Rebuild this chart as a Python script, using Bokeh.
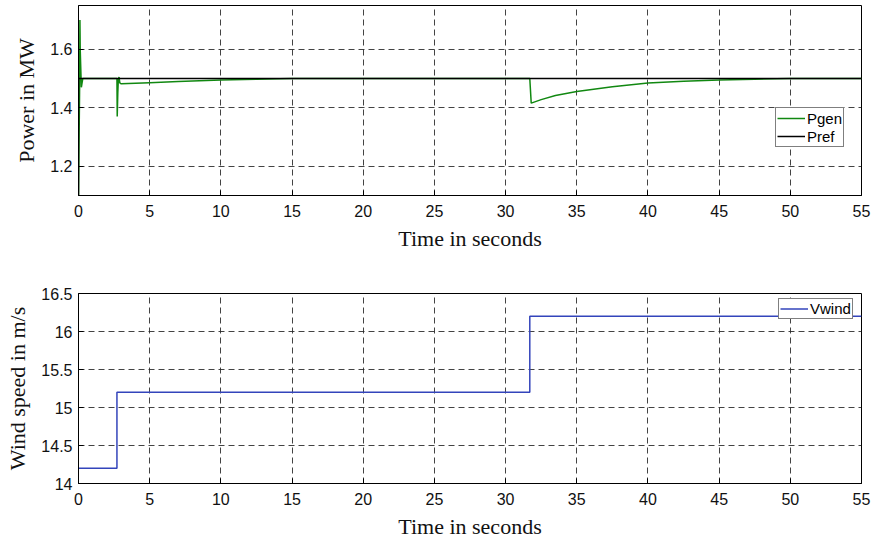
from bokeh.plotting import figure
from bokeh.layouts import column
from bokeh.models import Range1d, FixedTicker, Legend, LegendItem
from bokeh.embed import file_html
from bokeh.resources import INLINE

# ---- data ----
t_pgen = [0.0, 0.08, 0.1, 0.12, 0.2, 0.3, 2.7, 2.72, 2.76, 2.8, 2.85, 2.9, 3.0, 4.0, 5.0, 7.0, 10.0, 12.5, 15.0,
          31.6, 31.7, 31.8, 32.5, 33.5, 35.0, 37.5, 40.0, 42.5, 45.0, 47.5, 50.0, 55.0]
p_gen = [1.1, 1.48, 1.70, 1.60, 1.47, 1.50, 1.50, 1.37, 1.45, 1.50, 1.505, 1.485, 1.482, 1.484, 1.486, 1.49, 1.495, 1.498, 1.5,
         1.5, 1.5, 1.416, 1.428, 1.442, 1.456, 1.472, 1.485, 1.491, 1.495, 1.498, 1.5, 1.5]
t_pref = [0.0, 0.0, 55.0]
p_ref = [1.1, 1.5, 1.5]

t_wind = [0.0, 2.7, 2.7, 31.7, 31.7, 55.0]
v_wind = [14.2, 14.2, 15.2, 15.2, 16.2, 16.2]

x_ticks = [0, 5, 10, 15, 20, 25, 30, 35, 40, 45, 50, 55]
y1_ticks = [1.2, 1.4, 1.6]
y2_ticks = [14, 14.5, 15, 15.5, 16, 16.5]

TICK_FONT = "Liberation Sans"
LABEL_FONT = "Liberation Serif"


def style(p):
    p.outline_line_color = "black"
    p.outline_line_width = 1
    p.background_fill_color = "white"
    p.border_fill_color = "white"
    for g in (p.xgrid, p.ygrid):
        g.grid_line_color = "#222222"
        g.grid_line_dash = "6 4"
        g.grid_line_width = 1
        g.grid_line_alpha = 0.85
    for ax in (p.xaxis, p.yaxis):
        ax.major_label_text_font = TICK_FONT
        ax.major_label_text_font_size = "16px"
        ax.major_label_text_color = "#111111"
        ax.axis_label_text_font = LABEL_FONT
        ax.axis_label_text_font_size = "22px"
        ax.axis_label_text_font_style = "normal"
        ax.axis_label_text_color = "#111111"
        ax.axis_line_color = "black"
        ax.major_tick_line_color = "black"
        ax.major_tick_in = 5
        ax.major_tick_out = 0
        ax.minor_tick_line_color = None
    p.xaxis.major_label_standoff = 9
    p.yaxis.major_label_standoff = 6
    p.xaxis.axis_label_standoff = 6
    p.yaxis.axis_label_standoff = 8


# ---- top plot ----
p1 = figure(width=877, height=265, output_backend="svg", toolbar_location=None,
            x_range=Range1d(0, 55), y_range=Range1d(1.1, 1.75),
            min_border_left=78, min_border_right=16, min_border_top=5, min_border_bottom=70)
p1.xaxis.ticker = FixedTicker(ticks=x_ticks)
p1.yaxis.ticker = FixedTicker(ticks=y1_ticks)
p1.xaxis.axis_label = "Time in seconds"
p1.yaxis.axis_label = "Power in MW"
style(p1)
r_gen = p1.line(t_pgen, p_gen, line_color="#118811", line_width=1.5)
r_ref = p1.line(t_pref, p_ref, line_color="black", line_width=1.5)
leg1 = Legend(items=[LegendItem(label="Pgen", renderers=[r_gen]),
                     LegendItem(label="Pref", renderers=[r_ref])],
              location="top_left")
p1.add_layout(leg1)

# ---- bottom plot ----
p2 = figure(width=877, height=280, output_backend="svg", toolbar_location=None,
            x_range=Range1d(0, 55), y_range=Range1d(14, 16.5),
            min_border_left=78, min_border_right=16, min_border_top=28, min_border_bottom=62)
p2.xaxis.ticker = FixedTicker(ticks=x_ticks)
p2.yaxis.ticker = FixedTicker(ticks=y2_ticks)
p2.xaxis.axis_label = "Time in seconds"
p2.yaxis.axis_label = "Wind speed in m/s"
style(p2)
r_wind = p2.line(t_wind, v_wind, line_color="#3344bb", line_width=1.5)
leg2 = Legend(items=[LegendItem(label="Vwind", renderers=[r_wind])], location="top_right")
p2.add_layout(leg2)

for leg in (leg1, leg2):
    leg.label_text_font = TICK_FONT
    leg.label_text_font_size = "15px"
    leg.label_text_color = "black"
    leg.border_line_color = "black"
    leg.border_line_width = 1
    leg.background_fill_color = "white"
    leg.background_fill_alpha = 1.0
    leg.padding = 1
    leg.spacing = 0
    leg.margin = 0
    leg.glyph_width = 28
    leg.glyph_height = 18
    leg.label_standoff = 2
    leg.label_height = 18

leg2.glyph_height = 15
leg2.label_height = 15

# place legends by screen offsets inside the frame
leg1.location = (697, 48)   # from frame bottom-left
leg2.location = (700, 164)

layout = column(p1, p2, spacing=0)
open("out.html", "w").write(file_html(layout, INLINE))
